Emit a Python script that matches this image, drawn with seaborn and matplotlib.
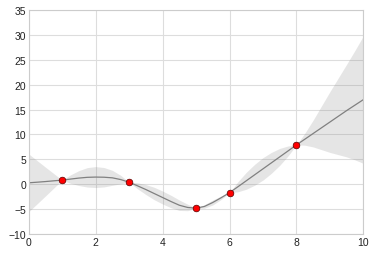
import numpy as np
import pandas as pd
import matplotlib
matplotlib.use("Agg")
import matplotlib.pyplot as plt
import seaborn as sns

# observed data points
xdata = [1, 3, 5, 6, 8]
ydata = [0.84, 0.42, -4.79, -1.68, 7.91]

# fitted curve
xfit = [0, 0.25, 0.5, 0.75, 1, 1.25, 1.5, 1.75, 2, 2.25, 2.5, 2.75, 3, 3.25, 3.5,
        3.75, 4, 4.25, 4.5, 4.75, 5, 5.25, 5.5, 5.75, 6, 6.25, 6.5, 6.75, 7, 7.25,
        7.5, 7.75, 8, 8.25, 8.5, 8.75, 9, 9.25, 9.5, 9.75, 10]
yfit = [0.3, 0.42, 0.55, 0.7, 0.84, 1.05, 1.25, 1.4, 1.45, 1.42, 1.3, 0.95, 0.42,
        -0.3, -1.05, -1.85, -2.65, -3.45, -4.2, -4.65, -4.79, -4.45, -3.65, -2.7,
        -1.68, -0.5, 0.7, 1.9, 3.1, 4.3, 5.5, 6.7, 7.91, 9.05, 10.2, 11.35, 12.5,
        13.65, 14.8, 15.9, 17.0]
dyfit = [5.8, 4.35, 2.9, 1.45, 0, 0.85, 1.5, 1.95, 2.1, 1.95, 1.5, 0.85, 0, 0.6,
         1.0, 1.25, 1.3, 1.25, 1.05, 0.65, 0, 0.35, 0.5, 0.35, 0, 1.0, 1.7, 2.1, 2.25,
         2.1, 1.7, 1.0, 0, 1.2, 2.7, 4.4, 6.1, 7.7, 9.3, 11.0, 12.8]

xticks = [0, 2, 4, 6, 8, 10]
yticks = [-10, -5, 0, 5, 10, 15, 20, 25, 30, 35]

sns.set_style("whitegrid", {"grid.color": "#dddddd", "axes.edgecolor": "#cccccc"})
plt.rcParams["font.family"] = ["Liberation Sans", "DejaVu Sans"]

fig = plt.figure(figsize=(3.75, 2.55), dpi=100)
ax = fig.add_axes([0.0765, 0.078, 0.8925, 0.879])

fit = pd.DataFrame({"x": xfit, "y": yfit, "dy": dyfit})
ax.fill_between(fit["x"], fit["y"] - fit["dy"], fit["y"] + fit["dy"],
                color="gray", alpha=0.2, linewidth=0)
sns.lineplot(data=fit, x="x", y="y", color="gray", linewidth=0.9, ax=ax)
ax.plot(xdata, ydata, "o", color="red", markersize=4.8,
        markeredgecolor="#550000", markeredgewidth=0.5, zorder=5)

ax.set_xlim(0, 10)
ax.set_ylim(-10, 35)
ax.set_xticks(xticks)
ax.set_yticks(yticks)
ax.set_xlabel("")
ax.set_ylabel("")
ax.tick_params(labelsize=7.5, pad=2, length=0, colors="#222222")
for s in ax.spines.values():
    s.set_linewidth(0.8)

fig.savefig("out.png", dpi=100)
